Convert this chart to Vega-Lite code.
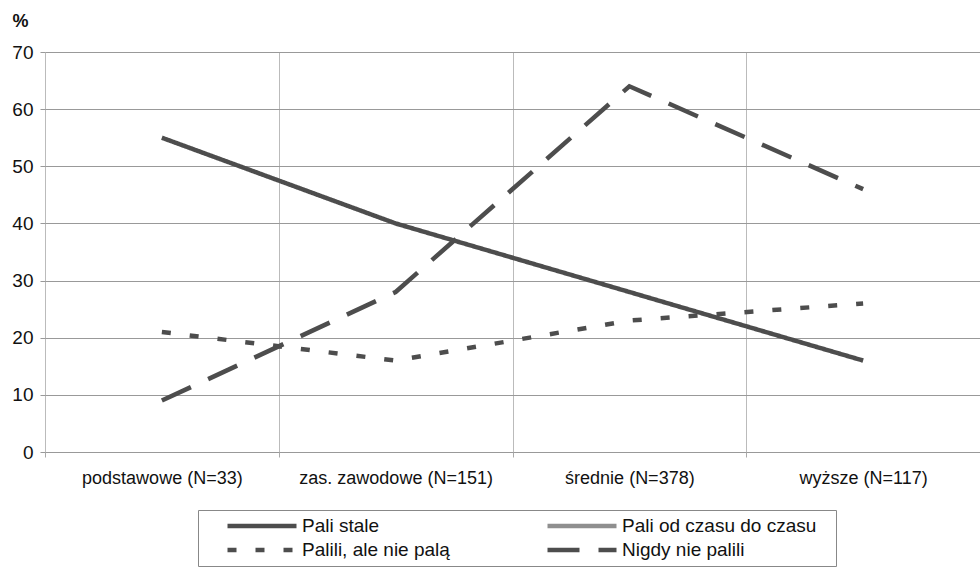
{
  "$schema": "https://vega.github.io/schema/vega-lite/v6.json",
  "width": 935,
  "height": 400,
  "autosize": {"type": "none"},
  "padding": {"left": 45, "top": 52, "right": 0, "bottom": 119},
  "background": "white",
  "config": {
    "font": "Liberation Sans",
    "view": {"stroke": null}
  },
  "data": {
    "values": [
      {"edu": "podstawowe (N=33)", "series": "Pali stale", "value": 55},
      {"edu": "zas. zawodowe (N=151)", "series": "Pali stale", "value": 40},
      {"edu": "średnie (N=378)", "series": "Pali stale", "value": 28},
      {"edu": "wyższe (N=117)", "series": "Pali stale", "value": 16},
      {"edu": "podstawowe (N=33)", "series": "Palili, ale nie palą", "value": 21},
      {"edu": "zas. zawodowe (N=151)", "series": "Palili, ale nie palą", "value": 16},
      {"edu": "średnie (N=378)", "series": "Palili, ale nie palą", "value": 23},
      {"edu": "wyższe (N=117)", "series": "Palili, ale nie palą", "value": 26},
      {"edu": "podstawowe (N=33)", "series": "Nigdy nie palili", "value": 9},
      {"edu": "zas. zawodowe (N=151)", "series": "Nigdy nie palili", "value": 28},
      {"edu": "średnie (N=378)", "series": "Nigdy nie palili", "value": 64},
      {"edu": "wyższe (N=117)", "series": "Nigdy nie palili", "value": 46}
    ]
  },
  "mark": {"type": "line", "strokeWidth": 4.5, "strokeCap": "butt"},
  "encoding": {
    "x": {
      "field": "edu",
      "type": "nominal",
      "sort": null,
      "scale": {"type": "band", "paddingInner": 0, "paddingOuter": 0},
      "axis": {
        "title": null,
        "labelAngle": 0,
        "labelFontSize": 18,
        "labelColor": "#111",
        "labelPadding": 12,
        "labelLimit": 300,
        "tickSize": 5,
        "tickColor": "#aaa",
        "domain": false,
        "grid": true,
        "gridColor": "#bbb",
        "tickBand": "extent"
      }
    },
    "y": {
      "field": "value",
      "type": "quantitative",
      "scale": {"domain": [0, 70]},
      "axis": {
        "values": [0, 10, 20, 30, 40, 50, 60, 70],
        "title": "%",
        "titleAngle": 0,
        "titleAlign": "left",
        "titleBaseline": "top",
        "titleX": -33,
        "titleY": -40,
        "titleFontSize": 18,
        "titleFontWeight": "bold",
        "titleColor": "#111",
        "labelFontSize": 19,
        "labelColor": "#111",
        "labelPadding": 7,
        "tickSize": 5,
        "tickColor": "#999",
        "domain": false,
        "gridColor": "#999"
      }
    },
    "color": {
      "field": "series",
      "type": "nominal",
      "scale": {
        "domain": ["Pali stale", "Pali od czasu do czasu", "Palili, ale nie palą", "Nigdy nie palili"],
        "range": ["#4d4d4d", "#8f8f8f", "#4d4d4d", "#4d4d4d"]
      },
      "legend": {
        "title": null,
        "orient": "none",
        "legendX": 153,
        "legendY": 458,
        "columns": 2,
        "direction": "horizontal",
        "symbolType": "stroke",
        "symbolSize": 4761,
        "symbolStrokeWidth": 4.5,
        "symbolOffset": 22,
        "clipHeight": 22,
        "labelFontSize": 19,
        "labelColor": "#111",
        "labelOffset": 3,
        "labelLimit": 400,
        "labelExpr": "indexof(datum.label, 'czasu') >= 0 ? datum.label + '\u2800' : datum.label",
        "rowPadding": 2,
        "columnPadding": 73,
        "padding": 5,
        "strokeColor": "#888",
        "fillColor": "white"
      }
    },
    "strokeDash": {
      "field": "series",
      "type": "nominal",
      "scale": {
        "domain": ["Pali stale", "Pali od czasu do czasu", "Palili, ale nie palą", "Nigdy nie palili"],
        "range": [[1, 0], [1, 0], [9, 19], [32, 19]]
      },
      "legend": null
    }
  }
}
